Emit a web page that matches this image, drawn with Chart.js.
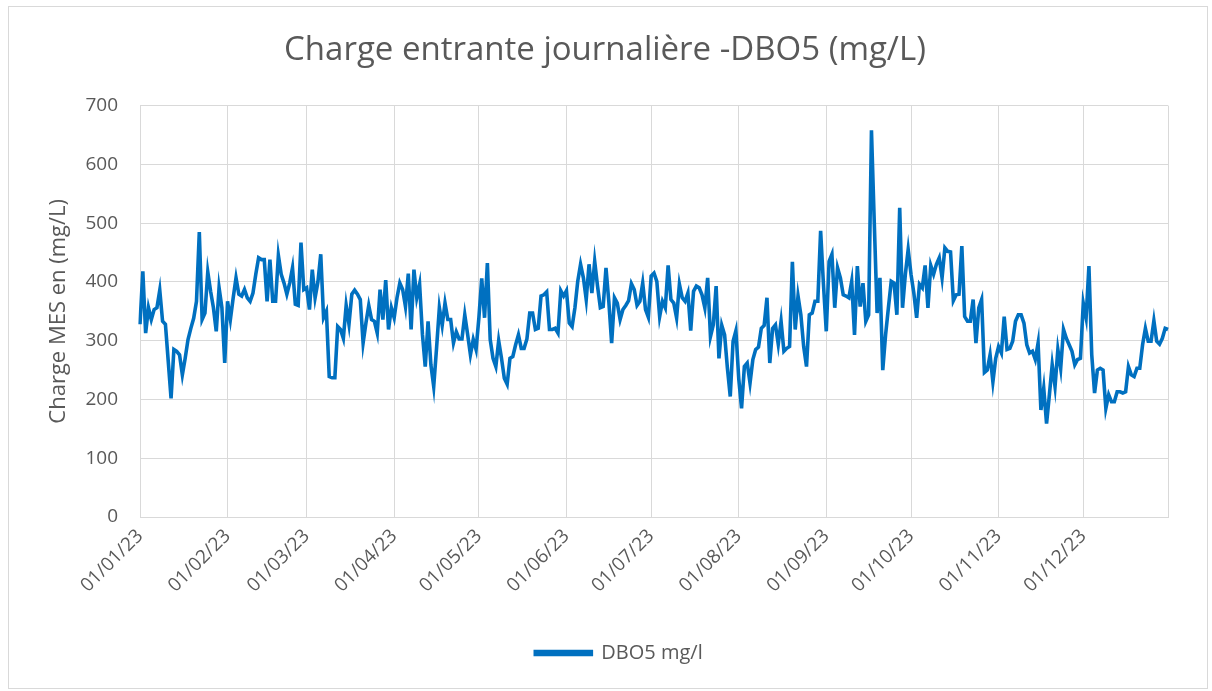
<!DOCTYPE html>
<html>
<head>
<meta charset="utf-8">
<script src="https://cdn.jsdelivr.net/npm/chart.js@4.4.1/dist/chart.umd.min.js"></script>
<style>
    html, body { margin: 0; padding: 0; background: #fff; }
    #wrap { position: relative; width: 1212px; height: 691px; }
    #frame { position: absolute; left: 8px; top: 6px; width: 1200px; height: 683px; border: 1px solid #d9d9d9; box-sizing: border-box; pointer-events: none; }
</style>
</head>
<body>
<div id="wrap">
    <canvas id="chart" width="1212" height="691"></canvas>
    <div id="frame"></div>
</div>
<script>
// Valeurs journalières DBO5 (mg/L), mois par mois
const jan = [328, 418, 313, 356, 336, 353, 356, 386, 333, 328, 265, 202, 285, 282, 276, 242, 270, 302, 321, 338, 367, 485, 336, 347, 417, 384, 356, 316, 390, 356, 262];
const feb = [367, 336, 373, 407, 379, 376, 387, 373, 367, 381, 413, 441, 438, 438, 367, 438, 367, 367, 445, 413, 398, 379, 398, 424, 362, 360, 467, 387];
const mar = [390, 353, 421, 373, 400, 447, 339, 350, 239, 237, 237, 324, 319, 304, 360, 328, 379, 386, 379, 370, 296, 330, 360, 336, 333, 313, 387, 336, 403, 319, 356];
const apr = [339, 373, 398, 387, 358, 414, 319, 421, 373, 396, 311, 256, 333, 259, 222, 287, 356, 326, 364, 336, 336, 296, 315, 303, 303, 344, 311, 276, 302, 285];
const may = [339, 406, 339, 432, 302, 270, 256, 300, 270, 236, 226, 270, 273, 293, 310, 287, 287, 303, 347, 347, 319, 321, 376, 378, 383, 319, 319, 321, 313, 385, 376];
const jun = [385, 330, 324, 356, 401, 430, 407, 370, 430, 381, 435, 393, 356, 358, 424, 367, 296, 373, 364, 336, 353, 360, 368, 397, 387, 360, 367, 398, 353, 340];
const jul = [410, 415, 401, 341, 367, 356, 428, 370, 364, 339, 396, 373, 367, 381, 317, 384, 393, 390, 378, 356, 407, 307, 327, 393, 270, 326, 310, 253, 205, 299, 317];
const aug = [236, 185, 256, 262, 228, 268, 285, 289, 321, 326, 373, 262, 321, 327, 294, 333, 282, 287, 290, 434, 319, 376, 344, 290, 256, 344, 347, 367, 367, 487, 396];
const sep = [316, 435, 447, 356, 424, 407, 378, 376, 373, 401, 310, 427, 358, 398, 333, 344, 658, 500, 347, 407, 250, 310, 356, 401, 398, 344, 526, 356, 413, 455];
const oct = [413, 381, 339, 396, 390, 428, 356, 428, 413, 430, 441, 407, 458, 452, 451, 368, 378, 379, 461, 341, 333, 333, 370, 296, 356, 370, 246, 250, 276, 230, 270];
const nov = [290, 279, 341, 285, 287, 299, 333, 344, 344, 330, 293, 279, 282, 268, 296, 182, 219, 159, 208, 259, 222, 285, 253, 319, 304, 293, 282, 259, 268, 270];
const dec = [364, 339, 427, 276, 211, 250, 253, 250, 185, 208, 196, 196, 213, 213, 211, 213, 256, 242, 239, 253, 253, 293, 321, 299, 299, 334, 299, 294, 304, 321, 319];

const dbo5 = [].concat(jan, feb, mar, apr, may, jun, jul, aug, sep, oct, nov, dec);

// Catégories : une date par jour (jj/mm/aa)
const monthDays = [31, 28, 31, 30, 31, 30, 31, 31, 30, 31, 30, 31];
const dayLabels = [];
monthDays.forEach((n, m) => {
    for (let d = 1; d <= n; d++) {
        dayLabels.push(String(d).padStart(2, '0') + '/' + String(m + 1).padStart(2, '0') + '/23');
    }
});

const yTicks = [0, 100, 200, 300, 400, 500, 600, 700];

const FONT = '"Open Sans", "Noto Sans", sans-serif';
const GREY = '#595959';
const GRID = '#d9d9d9';

// Décale la légende un peu vers la droite, comme dans Excel
const legendShift = {
    id: 'legendShift',
    beforeDraw(chart) {
        if (chart.legend && !chart.legend._shifted) {
            chart.legend.left += 14;
            chart.legend.right += 14;
            chart.legend._shifted = true;
        }
    }
};

const ctx = document.getElementById('chart').getContext('2d');
new Chart(ctx, {
    type: 'line',
    data: {
        labels: dayLabels,
        datasets: [{
            label: 'DBO5 mg/l',
            data: dbo5,
            borderColor: '#0070C0',
            backgroundColor: '#0070C0',
            borderWidth: 3.6,
            pointRadius: 0,
            tension: 0,
            fill: false
        }]
    },
    options: {
        responsive: false,
        animation: false,
        layout: { padding: { left: 42, right: 44, top: 0, bottom: 18 } },
        plugins: {
            title: {
                display: true,
                text: 'Charge entrante journalière -DBO5 (mg/L)',
                color: GREY,
                font: { family: FONT, size: 33, weight: 'normal' },
                padding: { top: 31, bottom: 35 }
            },
            legend: {
                position: 'bottom',
                labels: {
                    color: GREY,
                    font: { family: FONT, size: 20 },
                    boxWidth: 56,
                    boxHeight: 3,
                    padding: 12
                }
            },
            tooltip: { enabled: false }
        },
        scales: {
            x: {
                grid: { color: GRID, drawTicks: false },
                border: { color: GRID },
                afterFit: scale => { scale.height = 114; },
                ticks: {
                    autoSkip: false,
                    maxRotation: 45,
                    minRotation: 45,
                    color: GREY,
                    font: { family: FONT, size: 19 },
                    padding: 8,
                    callback: function (value, index) {
                        const l = dayLabels[index];
                        if (l.startsWith('01/')) return l;
                        if (index === dayLabels.length - 1) return '';
                        return null;
                    }
                }
            },
            y: {
                min: 0,
                max: 700,
                afterFit: scale => { scale.width = 98; },
                afterBuildTicks: scale => { scale.ticks = yTicks.map(v => ({ value: v })); },
                grid: { color: GRID, drawTicks: false },
                border: { display: false },
                ticks: { color: GREY, font: { family: FONT, size: 19 }, padding: 22 },
                title: {
                    display: true,
                    text: 'Charge MES en (mg/L)',
                    color: GREY,
                    font: { family: FONT, size: 22 }
                }
            }
        }
    },
    plugins: [legendShift]
});
</script>
</body>
</html>
